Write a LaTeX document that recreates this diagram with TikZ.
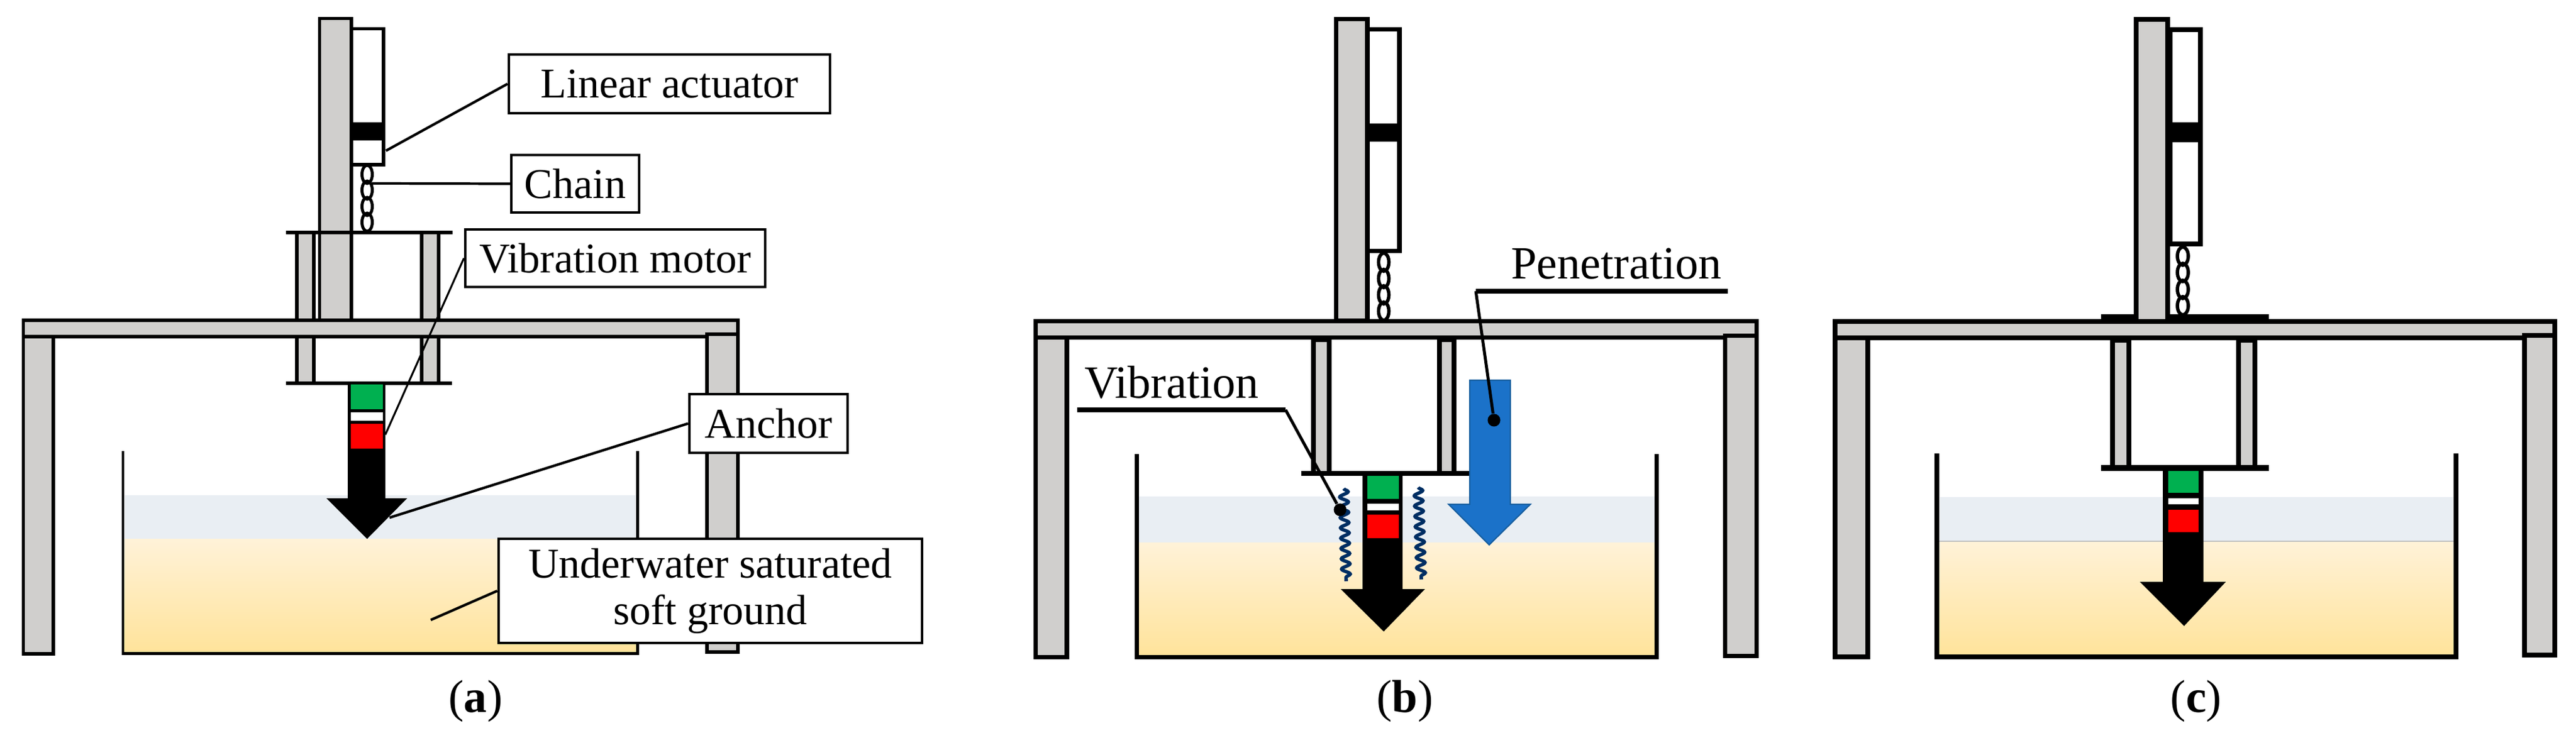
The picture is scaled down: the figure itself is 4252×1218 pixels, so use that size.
\documentclass[tikz,border=0pt]{standalone}
\usepackage{xcolor}
\usepackage{fontspec}
\setmainfont{Liberation Serif}
\usetikzlibrary{decorations.pathmorphing}

\definecolor{steelgray}{HTML}{D0CFCD}
\definecolor{waterblue}{HTML}{E9EEF3}
\definecolor{groundtop}{HTML}{FFF2D8}
\definecolor{groundbot}{HTML}{FFE39A}
\definecolor{motorgreen}{HTML}{00B050}
\definecolor{pushblue}{HTML}{1B72C9}
\definecolor{pushedge}{HTML}{175E9E}
\definecolor{wavenavy}{HTML}{002E63}

\tikzset{
	steel/.style={draw=black,fill=steelgray},
	lblbox/.style={draw=black,fill=white,line width=1.2pt,inner sep=0pt,align=center,font=\fontsize{19.9}{21.9}\selectfont},
	lbltext/.style={inner sep=0pt,font=\fontsize{21.7}{24}\selectfont},
	leader/.style={draw=black,line width=1.2pt},
	chainlink/.style={draw=black,line width=1.4pt},
	wave/.style={draw=wavenavy,line width=1.6pt,decorate,decoration={snake,segment length=0.17cm,amplitude=0.07cm}},
	pin/.style={circle,fill=black,inner sep=0pt,minimum size=0.21cm}
}

\begin{document}
\begin{tikzpicture}[x=0.01cm,y=-0.01cm]
	
	\useasboundingbox (0,0) rectangle (4252,1218);
	
	% panel a
	\begin{scope}[line width=1.6pt]
		\fill[waterblue] (203,818) rectangle (1052,890);
		\shade[top color=groundtop,bottom color=groundbot] (203,890) rectangle (1052,1079);
		\draw[line width=1.42pt] (203,745) -- (203,1079) -- (1052,1079) -- (1052,745);
		
		\draw[steel] (38.5,557) -- (38.5,1080) -- (88,1080) -- (88,557);
		\draw[steel] (490,384) rectangle (518,633);
		\draw[steel] (696,384) rectangle (724,633);
		\draw[steel] (527.5,30.5) rectangle (580,529);
		\draw[steel] (38.5,529) rectangle (1218,556);
		\draw[steel] (1167,552) rectangle (1218,1077);
		
		\draw[fill=white] (580,47.5) rectangle (633,272);
		\fill (580,202) rectangle (635,232);
		\draw[chainlink] (606,288) ellipse (8.5 and 15) (606,314) ellipse (8.5 and 15) (606,341) ellipse (8.5 and 15) (606,367) ellipse (8.5 and 15);
		\draw[line width=1.8pt] (472,384) -- (747,384);
		\draw[line width=1.8pt] (472,633) -- (746,633);
		
		\fill (574,630) -- (636,630) -- (636,823) -- (672,823) -- (606,890) -- (539,823) -- (574,823) -- cycle;
		\fill[motorgreen] (579,635) rectangle (632,676);
		\fill[white] (579,681) rectangle (632,695);
		\fill[red] (579,700) rectangle (632,741);
	\end{scope}
	
	\node[lblbox,minimum width=5.3cm,minimum height=0.97cm] (actLbl) at (1105,138.5) {Linear actuator};
	\node[lblbox,minimum width=2.11cm,minimum height=0.95cm] (chainLbl) at (949.5,303.5) {Chain};
	\node[lblbox,minimum width=4.95cm,minimum height=0.95cm] (motorLbl) at (1015.5,426.5) {Vibration motor};
	\node[lblbox,minimum width=2.61cm,minimum height=0.97cm] (anchorLbl) at (1268.5,699.5) {Anchor};
	\node[lblbox,minimum width=6.99cm,minimum height=1.72cm] (groundLbl) at (1172.5,976) {Underwater saturated\\soft ground};
	
	\coordinate (actEnd) at (637,249);
	\coordinate (chainEnd) at (614,303);
	\coordinate (motorEnd) at (636,718);
	\coordinate (anchorEnd) at (643,855);
	\coordinate (groundEnd) at (711,1024);
	
	\draw[leader] (actLbl.west) -- (actEnd);
	\draw[leader] (chainLbl.west) -- (chainEnd);
	\draw[leader,line width=0.9pt] (motorLbl.west) -- (motorEnd);
	\draw[leader] (anchorLbl.west) -- (anchorEnd);
	\draw[leader] (groundLbl.west) -- (groundEnd);
	
	\node[lbltext] (capA) at (785,1158) {(\textbf{a})};
	
	% panel b
	\begin{scope}[line width=2.2pt]
		\fill[waterblue] (1876,820) rectangle (2734,896);
		\shade[top color=groundtop,bottom color=groundbot] (1876,896) rectangle (2734,1085);
		\draw[line width=2pt] (1876,750) -- (1876,1085.5) -- (2734,1085.5) -- (2734,750);
		
		\draw[steel] (1709.5,561) -- (1709.5,1085.5) -- (1761,1085.5) -- (1761,561);
		\draw[steel] (2168,561) rectangle (2194,782);
		\draw[steel] (2376,561) rectangle (2400,782);
		\draw[steel] (2205.5,31.5) rectangle (2257,530);
		\draw[steel] (1709.5,530.5) rectangle (2899.5,557.5);
		\draw[steel] (2847.5,554.5) rectangle (2899.5,1083.5);
		
		\draw[fill=white] (2257,48.5) rectangle (2310,414.5);
		\fill (2257,204) rectangle (2313,234);
		\draw[chainlink,line width=1.6pt] (2284,433) ellipse (8.5 and 15) (2284,460) ellipse (8.5 and 15) (2284,487) ellipse (8.5 and 15) (2284,514) ellipse (8.5 and 15);
		\draw[line width=2pt] (2148,782) -- (2430,782);
		
		\fill[pushblue,draw=pushedge,line width=0.6pt] (2426,628) -- (2493,628) -- (2493,833) -- (2526,833) -- (2458,900) -- (2391,833) -- (2426,833) -- cycle;
		
		\fill (2249,778) -- (2315,778) -- (2315,973) -- (2352,973) -- (2284,1043) -- (2213,973) -- (2249,973) -- cycle;
		\fill[motorgreen] (2257,786) rectangle (2309,824);
		\fill[white] (2257,832) rectangle (2309,843);
		\fill[red] (2257,850) rectangle (2309,889);
		
		\draw[wave] (2218,807) -- (2222,960);
		\draw[wave] (2341,805) -- (2346,957);
	\end{scope}
	
	\node[lbltext] (vibLbl) at (1934,632) {Vibration};
	\node[lbltext] (penLbl) at (2668,436) {Penetration};
	
	\coordinate (vibTail) at (1778,677);
	\coordinate (vibBend) at (2122,677);
	\node[pin] (vibPin) at (2212,842) {};
	\coordinate (penTail) at (2852,481);
	\coordinate (penBend) at (2436,481);
	\node[pin] (penPin) at (2466,694) {};
	
	\draw[line width=2.1pt] (vibTail) -- (vibBend);
	\draw[leader,line width=1.4pt] (vibBend) -- (vibPin);
	\draw[line width=2.1pt] (penTail) -- (penBend);
	\draw[leader,line width=1.4pt] (penBend) -- (penPin);
	
	\node[lbltext] (capB) at (2319,1158) {(\textbf{b})};
	
	% panel c
	\begin{scope}[line width=2.5pt]
		\fill[waterblue] (3197,821) rectangle (4054,894);
		\shade[top color=groundtop,bottom color=groundbot] (3197,894) rectangle (4054,1085);
		\draw[line width=0.6pt,draw=black!25] (3197,894) -- (4054,894);
		\draw (3197,749) -- (3197,1085) -- (4054,1085) -- (4054,749);
		
		\draw[steel] (3029,562) -- (3029,1085) -- (3083,1085) -- (3083,562);
		\draw[steel] (3487,562) rectangle (3514,773);
		\draw[steel] (3695,562) rectangle (3722,773);
		\draw[steel] (3526,32) rectangle (3578,530);
		\fill (3468,519) rectangle (3745,530);
		\fill[steelgray] (3530,519) rectangle (3574,530);
		\draw[steel] (3029,531) rectangle (4217,558);
		\draw[steel] (4167,554) rectangle (4217,1082);
		
		\draw[fill=white] (3582,49) rectangle (3632,403);
		\fill (3582,202) rectangle (3635,235);
		\draw[chainlink,line width=1.6pt] (3603,423) ellipse (9 and 15) (3603,450) ellipse (9 and 15) (3603,478) ellipse (9 and 15) (3603,505) ellipse (9 and 15);
		\draw[line width=2.8pt] (3468,773) -- (3745,773);
		
		\fill (3570,768) -- (3637,768) -- (3637,961) -- (3674,961) -- (3605,1034) -- (3532,961) -- (3570,961) -- cycle;
		\fill[motorgreen] (3579,778) rectangle (3629,814);
		\fill[white] (3579,823) rectangle (3629,833);
		\fill[red] (3579,842) rectangle (3629,879);
	\end{scope}
	
	\node[lbltext] (capC) at (3625,1158) {(\textbf{c})};
	
\end{tikzpicture}
\end{document}
